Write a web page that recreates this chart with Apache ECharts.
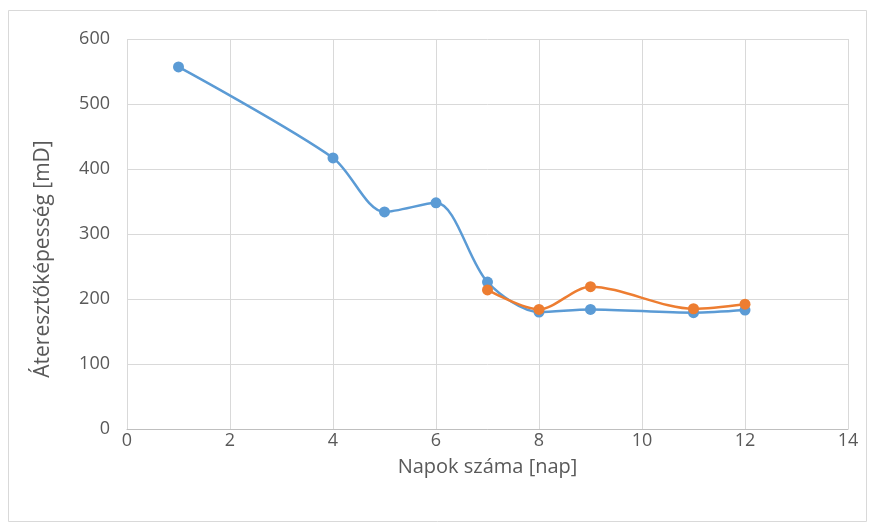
<!DOCTYPE html>
<html>
<head>
<meta charset="utf-8">
<script src="https://cdn.jsdelivr.net/npm/echarts@6/dist/echarts.min.js"></script>
<style>
  html, body { margin: 0; padding: 0; background: #fff; }
  #chart { width: 875px; height: 530px; }
</style>
</head>
<body>
<div id="chart"></div>
<script>
// Measurement days and permeability values [mD]
const daysA = [1, 4, 5, 6, 7, 8, 9, 11, 12];
const permA = [557, 417, 334, 348, 226, 180, 184, 179, 183];
const daysB = [7, 8, 9, 11, 12];
const permB = [214, 184, 219, 185, 192];

const xTicks = { min: 0, max: 14, interval: 2 };
const yTicks = { min: 0, max: 600, interval: 100 };

const font = '"Open Sans", Lato, sans-serif';
const textGray = '#595959';

const chart = echarts.init(document.getElementById('chart'));
chart.setOption({
  animation: false,
  backgroundColor: '#fff',
  graphic: [{
    type: 'rect',
    shape: { x: 8.5, y: 10.5, width: 858, height: 511 },
    style: { fill: 'none', stroke: '#d9d9d9', lineWidth: 1 }
  }],
  grid: { left: 127, right: 27, top: 39, bottom: 101 },
  xAxis: {
    type: 'value',
    min: xTicks.min, max: xTicks.max, interval: xTicks.interval,
    name: 'Napok száma [nap]',
    nameLocation: 'middle',
    nameGap: 28,
    nameTextStyle: { color: textGray, fontSize: 20, fontFamily: font },
    axisLine: { lineStyle: { color: '#bfbfbf', width: 1 } },
    axisTick: { show: false },
    axisLabel: { color: textGray, fontSize: 18, fontFamily: font, margin: 3 },
    splitLine: { show: true, lineStyle: { color: '#d9d9d9', width: 1 } }
  },
  yAxis: {
    type: 'value',
    min: yTicks.min, max: yTicks.max, interval: yTicks.interval,
    name: 'Áteresztőképesség [mD]',
    nameLocation: 'middle',
    nameGap: 73,
    nameTextStyle: { color: textGray, fontSize: 21, fontFamily: font, padding: [0, 50, 0, 0] },
    axisLine: { show: false },
    axisTick: { show: false },
    axisLabel: { color: textGray, fontSize: 18, fontFamily: font, margin: 17 },
    splitLine: { show: true, lineStyle: { color: '#d9d9d9', width: 1 } }
  },
  series: [
    {
      type: 'line',
      data: daysA.map((d, i) => [d, permA[i]]),
      smooth: 0.3,
      symbol: 'circle',
      symbolSize: 11,
      lineStyle: { color: '#5B9BD5', width: 2.5 },
      itemStyle: { color: '#5B9BD5' }
    },
    {
      type: 'line',
      data: daysB.map((d, i) => [d, permB[i]]),
      smooth: 0.3,
      symbol: 'circle',
      symbolSize: 11,
      lineStyle: { color: '#ED7D31', width: 2.5 },
      itemStyle: { color: '#ED7D31' }
    }
  ]
});
</script>
</body>
</html>
